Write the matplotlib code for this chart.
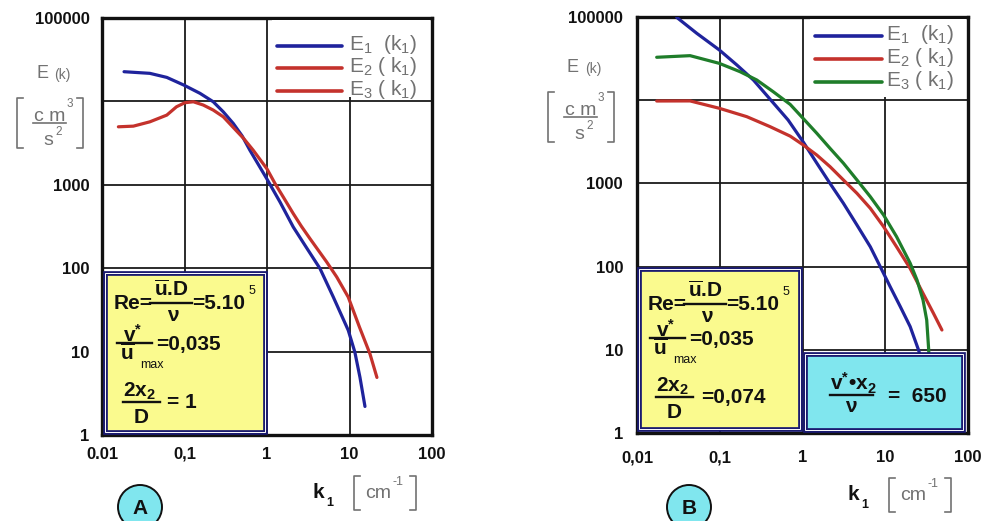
import matplotlib
matplotlib.use("Agg")
import matplotlib.pyplot as plt
from matplotlib.patches import Rectangle, Ellipse
from matplotlib.lines import Line2D

plt.rcParams['font.family'] = ['Liberation Sans', 'DejaVu Sans']
plt.rcParams['mathtext.fontset'] = 'custom'
plt.rcParams['mathtext.rm'] = 'Liberation Sans'
plt.rcParams['mathtext.it'] = 'Liberation Sans:italic'
plt.rcParams['mathtext.bf'] = 'Liberation Sans:bold'
plt.rcParams['mathtext.sf'] = 'Liberation Sans'

# ---------------- data ----------------
x_ticks = [0.01, 0.1, 1, 10, 100]
x_labels_a = ['0.01', '0,1', '1', '10', '100']
x_labels_b = ['0,01', '0,1', '1', '10', '100']
y_ticks = [1, 10, 100, 1000, 10000, 100000]
y_labels = ['1', '10', '100', '1000', '', '100000']

# panel A  (2x2/D = 1)
a_k1 = [0.0185, 0.038, 0.061, 0.098, 0.154, 0.223, 0.295, 0.39, 0.5, 0.62, 0.99, 1.44,
        2.08, 2.97, 4.39, 6.37, 9.66, 11.6, 13.4, 15.4]
a_e1 = [22700, 21700, 19400, 15700, 12500, 9900, 7500, 5440, 3850, 2600, 1190, 620,
        312, 180, 99, 45, 18, 9.9, 4.9, 2.2]
a_k2 = [0.0158, 0.024, 0.038, 0.061, 0.080, 0.101, 0.128, 0.169, 0.223, 0.295, 0.39,
        0.52, 0.68, 1.0, 1.25, 1.6, 2.08, 2.6, 3.32, 5.28, 7.0, 9.66, 13.2, 17.7, 21.5]
a_e2 = [4960, 5050, 5690, 6850, 8620, 9640, 9900, 9040, 7870, 6540, 4870,
        3600, 2600, 1550, 1037, 695, 452, 320, 226, 119, 78.5, 45, 19.7, 9.4, 4.9]

# panel B  (2x2/D = 0,074)
b_k1 = [0.0302, 0.0527, 0.099, 0.161, 0.255, 0.405, 0.67, 1.02, 1.49, 2.15, 3.12,
        4.55, 6.6, 8.7, 11.5, 15.2, 20, 25.2, 33]
b_e1 = [99000, 63700, 40100, 26500, 17500, 10300, 5780, 3150, 1750, 1000, 577,
        316, 173, 99.8, 57, 33, 19, 10, 4]
b_k2 = [0.0173, 0.0438, 0.099, 0.212, 0.405, 0.71, 1.02, 1.49, 2.15, 3.12, 4.55,
        6.6, 9.55, 13.7, 20, 28.6, 38.2, 48.4]
b_e2 = [9780, 9800, 7990, 6340, 4810, 3700, 2900, 2190, 1590, 1100, 760,
        502, 302, 173, 95, 47.7, 27.5, 17.3]
b_k3 = [0.0173, 0.0438, 0.099, 0.176, 0.28, 0.445, 0.71, 1.06, 1.49, 2.15, 3.12,
        4.55, 6.6, 9.55, 13.7, 20, 24.2, 28.6, 31.7, 33.5, 34.5]
b_e3 = [32800, 34300, 27700, 22000, 17500, 12600, 8900, 5780, 4000, 2640, 1750,
        1100, 692, 417, 229, 110, 69, 39.7, 22.8, 10, 4]

BLUE = '#1f239c'
RED = '#c4322c'
GREEN = '#1f7d2a'
NAVY = '#1a1a70'
GRAY = '#727272'
INK = '#111111'
YELLOW = '#fafa8e'
CYAN = '#80e6ee'

# ---------------- figure ----------------
W, H = 981, 521
fig = plt.figure(figsize=(W / 100, H / 100), dpi=100)
fig.patch.set_facecolor('white')


def P(x, y):
    """pixel position (from top-left) -> figure fraction"""
    return (x / W, 1 - y / H)


def add_axes_px(l, t, r, b):
    return fig.add_axes([l / W, 1 - b / H, (r - l) / W, (b - t) / H])


def style_axes(ax, xlabels, xpad, ypad):
    ax.set_xscale('log')
    ax.set_yscale('log')
    ax.set_xlim(0.01, 100)
    ax.set_ylim(1, 1e5)
    ax.set_xticks(x_ticks)
    ax.set_xticklabels(xlabels)
    ax.set_yticks(y_ticks)
    ax.set_yticklabels(y_labels)
    ax.minorticks_off()
    ax.tick_params(axis='x', length=0, pad=xpad, labelsize=12)
    ax.tick_params(axis='y', length=0, pad=ypad, labelsize=12)
    for lab in ax.get_xticklabels() + ax.get_yticklabels():
        lab.set_fontweight('bold')
        lab.set_color(INK)
    ax.grid(True, which='major', color='#1a1a1a', lw=1.3)
    for s in ax.spines.values():
        s.set_linewidth(2.4)
        s.set_color(INK)


axA = add_axes_px(102, 18, 432, 435)
axB = add_axes_px(637, 17, 968, 433)
style_axes(axA, x_labels_a, 8.5, 9)
style_axes(axB, x_labels_b, 12.5, 10)

curve = dict(lw=2.3, solid_capstyle='round', solid_joinstyle='round', zorder=3)
axA.plot(a_k1, a_e1, color=BLUE, **curve)
axA.plot(a_k2, a_e2, color=RED, **curve)
axB.plot(b_k1, b_e1, color=BLUE, **curve)
axB.plot(b_k2, b_e2, color=RED, **curve)
axB.plot(b_k3, b_e3, color=GREEN, **curve)


# ---------------- helpers for pixel-placed artists ----------------
def rect(x0, y0, x1, y1, **kw):
    r = Rectangle(P(x0, y1), (x1 - x0) / W, (y1 - y0) / H,
                  transform=fig.transFigure, **kw)
    fig.add_artist(r)
    return r


def line(xs, ys, **kw):
    fig.add_artist(Line2D([x / W for x in xs], [1 - y / H for y in ys],
                          transform=fig.transFigure, **kw))


def text(x, y, s, **kw):
    fig.text(*P(x, y), s, **kw)


# legend blocks (white background hides the grid behind them)
def legend(x0, x1, top, bottom, right, rows_y, colors, tx):
    rect(x0, top, right, bottom, facecolor='white', edgecolor='none', zorder=1.5)
    labels = [r'E$_1$  (k$_1$)', r'E$_2$ ( k$_1$)', r'E$_3$ ( k$_1$)']
    for yy, c, lab in zip(rows_y, colors, labels):
        line([x0 + 5, x1], [yy, yy], color=c, lw=2.6, solid_capstyle='round', zorder=2)
        text(tx, yy + 4, lab, fontsize=15, color=GRAY, va='baseline', ha='left', zorder=3)


legend(272, 342, 20, 97, 430, [46, 68, 91], [BLUE, RED, RED], 349)
legend(810, 882, 19, 97, 966, [36, 59, 82], [BLUE, RED, GREEN], 886)


# E(k) [cm^3/s^2] labels
def ylabel_block(cx, ey):
    text(cx - 12, ey + 6, 'E', fontsize=13, color=GRAY, ha='center', va='baseline')
    text(cx + 8, ey + 7, '(k)', fontsize=10, color=GRAY, ha='center', va='baseline')
    fy = ey + 51
    text(cx - 4, fy - 2, 'c m', fontsize=14, color=GRAY, ha='center', va='baseline')
    text(cx + 16, fy - 16, '3', fontsize=8.5, color=GRAY, ha='center', va='baseline')
    line([cx - 21, cx + 12], [fy, fy], color=GRAY, lw=1.2)
    text(cx - 6, fy + 22, 's', fontsize=14, color=GRAY, ha='center', va='baseline')
    text(cx + 5, fy + 12, '2', fontsize=8.5, color=GRAY, ha='center', va='baseline')
    lx, rx = cx - 37, cx + 29
    line([lx + 6, lx, lx, lx + 6], [fy - 25, fy - 25, fy + 25, fy + 25], color=GRAY, lw=1.2)
    line([rx - 6, rx, rx, rx - 6], [fy - 25, fy - 25, fy + 25, fy + 25], color=GRAY, lw=1.2)


ylabel_block(54, 72)
ylabel_block(585, 66)


# k1 [cm^-1] labels
def xlabel_block(kx, ky):
    text(kx, ky, 'k', fontsize=15, fontweight='bold', color=INK, ha='center', va='baseline')
    text(kx + 12, ky + 8, '1', fontsize=9, fontweight='bold', color=INK, ha='center', va='baseline')
    bx = kx + 36
    line([bx + 6, bx, bx, bx + 6], [ky - 22, ky - 22, ky + 12, ky + 12], color=GRAY, lw=1.2)
    text(bx + 24, ky, 'cm', fontsize=14, color=GRAY, ha='center', va='baseline')
    text(bx + 44, ky - 13, '-1', fontsize=9, color=GRAY, ha='center', va='baseline')
    rx = bx + 62
    line([rx - 6, rx, rx, rx - 6], [ky - 22, ky - 22, ky + 12, ky + 12], color=GRAY, lw=1.2)


xlabel_block(318, 498)
xlabel_block(853, 500)


# circled panel letters
def badge(cx, cy, letter):
    fig.add_artist(Ellipse(P(cx, cy), 44 / W, 44 / H, transform=fig.transFigure,
                           facecolor=CYAN, edgecolor=INK, lw=1.4))
    text(cx, cy + 1, letter, fontsize=15, fontweight='bold', color=INK,
         ha='center', va='center')


badge(140, 507, 'A')
badge(689, 507, 'B')


# parameter boxes
def framed_box(x0, y0, x1, y1, fill):
    rect(x0, y0, x1, y1, facecolor=fill, edgecolor=NAVY, lw=3.4, zorder=4)
    rect(x0, y0, x1, y1, facecolor='none', edgecolor='white', lw=0.7, zorder=4.1)


framed_box(105, 273, 265, 432, YELLOW)
framed_box(639, 269, 800, 429, YELLOW)
framed_box(805, 354, 963, 430, CYAN)

FS = 15
bkw = dict(fontsize=FS, fontweight='bold', color=INK, va='baseline', zorder=5)


def bar(x0, x1, y):
    line([x0, x1], [y, y], color=INK, lw=1.7, zorder=5)


def re_line(x, ybar):
    text(x, ybar + 6, 'Re=', ha='left', **bkw)
    bar(x + 36, x + 78, ybar)
    text(x + 57, ybar - 7, r'$\mathbf{\overline{u}}$.D', ha='center', **bkw)
    text(x + 59, ybar + 18, 'ν', ha='center', **bkw)
    text(x + 78, ybar + 6, '=5.10', ha='left', **bkw)
    text(x + 135, ybar - 9, '5', ha='left', fontsize=9, color=INK, va='baseline', zorder=5)


def ratio_line(x, ybar, value):
    text(x + 16, ybar - 1, r'v$^{\mathbf{*}}$', ha='center', **bkw)
    bar(x, x + 35, ybar)
    text(x + 10, ybar + 17, r'$\mathbf{\overline{u}}$', ha='center', **bkw)
    text(x + 23, ybar + 25, 'max', ha='left', fontsize=9, color=INK, va='baseline', zorder=5)
    text(x + 39, ybar + 7, value, ha='left', **bkw)


def depth_line(x, ybar, width, value, gap):
    text(x, ybar - 5, r'2x$_{\mathbf{2}}$', ha='left', **bkw)
    bar(x, x + width, ybar)
    text(x + width / 2, ybar + 21, 'D', ha='center', **bkw)
    text(x + width + gap, ybar + 6, value, ha='left', **bkw)


re_line(114, 303)
ratio_line(117, 343, '=0,035')
depth_line(123, 402, 37, '= 1', 7)

re_line(648, 304)
ratio_line(650, 338, '=0,035')
depth_line(656, 397, 37, '=0,074', 8)

# friction-velocity Reynolds number box
text(830, 390, r'v$^{\mathbf{*}}$•x$_{\mathbf{2}}$', ha='left', **bkw)
bar(830, 873, 395)
text(851, 412, 'ν', ha='center', **bkw)
text(888, 402, '=  650', ha='left', **bkw)

fig.savefig('out.png', dpi=100, facecolor='white')
